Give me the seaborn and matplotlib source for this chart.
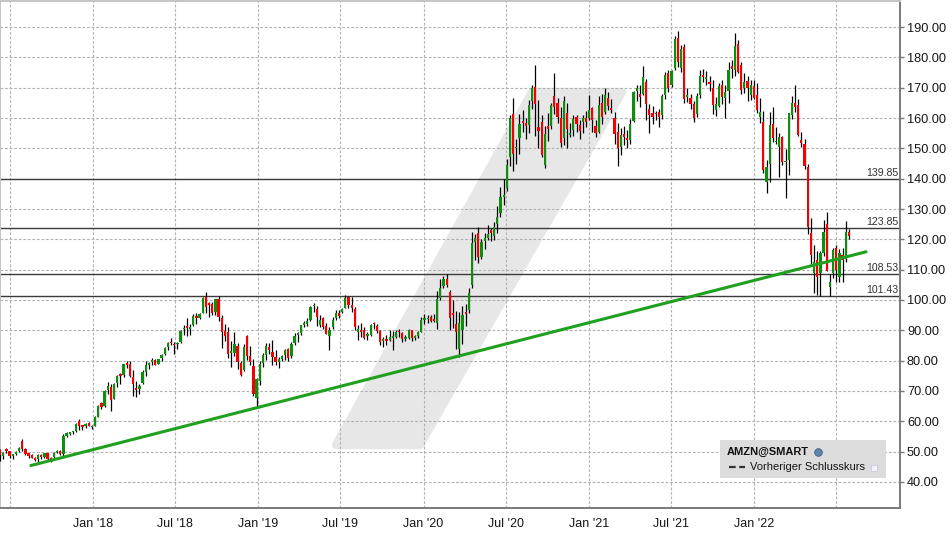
"""AMZN weekly candles with support/resistance levels and trend line."""

import numpy as np
import pandas as pd
import matplotlib
matplotlib.use("Agg")
import matplotlib.pyplot as plt
import matplotlib.dates as mdates
from matplotlib.patches import Polygon, Rectangle
import seaborn as sns

# ---- data (weekly bars, Friday dates) ----
first_week = "2017-06-09"

opens = [
    # 2017
    50.5, 48.5, 50.9, 50.1, 48.6, 49.1, 50.2, 53.4, 51.0, 49.4, 48.9, 48.0, 47.4, 48.8, 48.1,
    49.5, 47.7, 48.3, 49.8, 50.2, 49.3, 55.2, 55.8, 56.3, 56.8, 60.0, 58.6, 58.6, 59.4, 58.1,
    # 2018
    58.6, 61.5, 65.9, 64.9, 70.3, 71.2, 67.5, 72.6, 75.4, 75.4, 79.3, 78.8, 74.6, 71.0, 70.8,
    72.5, 76.2, 78.6, 79.4, 80.3, 79.0, 80.8, 82.3, 84.5, 86.3, 85.3, 85.4, 86.0, 90.4, 91.3,
    90.5, 91.8, 94.4, 94.2, 95.8, 101.0, 98.9, 98.7, 96.0, 100.3, 94.0, 89.8, 89.5, 82.5, 82.6,
    84.8, 79.1, 76.9, 88.0, 81.6, 78.2, 67.8,
    # 2019
    73.2, 79.1, 81.7, 84.4, 83.0, 81.2, 79.5, 80.6, 81.8, 84.0, 81.6, 85.8, 88.4, 89.2, 91.9,
    92.1, 93.5, 98.0, 97.0, 91.8, 94.0, 91.3, 88.0, 91.0, 94.0, 95.8, 96.1, 97.5, 101.0, 98.5,
    97.0, 89.5, 90.0, 90.0, 88.0, 88.5, 92.4, 91.5, 89.7, 86.5, 87.2, 86.7, 87.6, 87.8, 89.6,
    89.0, 87.2, 87.5, 90.0, 87.6, 88.1, 89.6,
    # 2020
    93.5, 93.6, 94.3, 93.6, 92.5, 100.5, 104.5, 107.0, 102.5, 95.6, 92.0, 84.0, 90.0, 96.0, 96.6,
    105.0, 119.0, 122.0, 114.3, 119.5, 120.4, 123.0, 121.0, 125.1, 128.8, 134.0, 137.0, 147.0,
    161.3, 150.0, 153.3, 159.0, 158.5, 157.8, 165.5, 170.1, 157.0, 158.8, 144.5, 157.4, 157.5,
    167.2, 165.0, 160.0, 153.3, 161.5, 154.5, 156.0, 160.4, 157.7, 158.8, 160.0,
    # 2021
    159.9, 163.2, 157.4, 155.5, 165.0, 162.0, 166.5, 163.3, 160.0, 155.5, 150.5, 154.6, 153.5,
    152.7, 159.0, 168.8, 168.0, 168.0, 172.0, 163.0, 161.6, 161.5, 162.0, 161.0, 167.5, 175.0,
    171.0, 176.5, 186.5, 176.4, 183.5, 167.0, 166.5, 164.5, 161.3, 167.5, 174.3, 173.0, 172.0,
    170.0, 162.5, 164.0, 171.0, 166.5, 169.0, 177.0, 176.0, 184.3, 177.5, 169.8, 172.3, 167.5,
    170.6,
    # 2022
    167.6, 160.4, 158.8, 139.0, 145.0, 158.2, 152.0, 150.5, 153.8, 145.4, 146.1, 161.0, 164.8,
    164.3, 152.7, 151.4, 144.0, 122.0, 108.8, 113.2, 108.8, 115.4, 125.1, 104.4, 108.8, 117.0,
    107.7, 114.8, 113.4, 122.5,
]

highs = [
    # 2017
    50.8, 49.9, 51.2, 50.3, 49.3, 50.2, 51.6, 54.2, 51.2, 49.7, 49.2, 48.3, 49.2, 49.2, 49.6,
    49.7, 48.2, 50.0, 50.6, 50.5, 55.9, 56.5, 56.6, 56.9, 59.4, 60.9, 58.9, 59.4, 59.6, 58.8,
    # 2018
    61.8, 65.3, 66.4, 70.2, 72.9, 72.3, 72.6, 75.1, 76.0, 79.0, 80.0, 79.8, 76.8, 73.3, 72.4,
    77.0, 80.0, 79.6, 80.8, 80.6, 80.7, 82.3, 84.6, 86.3, 87.6, 86.0, 86.0, 90.0, 91.8, 94.0,
    92.1, 95.3, 95.8, 95.8, 100.9, 102.5, 99.4, 99.5, 100.4, 101.2, 95.0, 92.0, 91.0, 86.5, 89.6,
    85.7, 79.8, 85.4, 88.4, 84.9, 80.6, 74.4,
    # 2019
    79.8, 82.6, 85.8, 85.9, 86.7, 83.4, 81.3, 82.0, 83.8, 84.1, 86.0, 89.1, 89.5, 91.9, 93.0,
    94.0, 98.1, 98.9, 98.0, 95.0, 94.4, 92.3, 91.0, 94.3, 96.7, 96.8, 97.5, 101.8, 101.3, 101.0,
    97.6, 91.8, 92.5, 91.2, 89.5, 92.1, 92.6, 92.0, 90.0, 87.8, 88.5, 90.0, 89.7, 90.0, 90.5,
    89.5, 88.3, 90.5, 90.2, 88.3, 89.7, 94.3,
    # 2020
    95.3, 95.0, 95.0, 95.3, 102.8, 106.8, 108.0, 108.6, 103.4, 99.9, 96.5, 96.0, 98.0, 98.8,
    104.0, 122.5, 121.8, 124.0, 120.0, 122.0, 124.8, 123.9, 125.6, 131.0, 137.4, 140.0, 146.5,
    160.9, 166.7, 153.2, 161.4, 162.5, 160.0, 166.1, 171.0, 177.6, 165.8, 161.0, 157.5, 161.8,
    165.0, 174.8, 166.5, 163.5, 167.2, 165.0, 158.5, 161.0, 161.0, 159.5, 161.0, 162.2,
    # 2021
    167.5, 163.5, 159.5, 167.4, 168.0, 170.0, 168.5, 166.2, 162.0, 158.5, 156.6, 157.5, 156.0,
    159.6, 169.0, 171.0, 171.0, 177.3, 173.0, 164.6, 164.0, 162.4, 163.0, 168.0, 175.3, 175.8,
    176.0, 187.0, 188.6, 184.0, 184.3, 169.8, 167.9, 165.5, 168.2, 175.8, 176.3, 175.5, 173.9,
    172.7, 167.0, 171.7, 172.4, 170.8, 178.5, 179.1, 188.1, 185.7, 178.5, 175.0, 174.0, 172.5,
    172.7,
    # 2022
    171.4, 166.6, 162.3, 146.0, 162.0, 163.8, 157.1, 155.0, 154.0, 149.7, 161.8, 167.2, 170.8,
    166.2, 155.5, 153.0, 144.9, 127.0, 118.0, 116.0, 116.0, 126.4, 129.1, 108.5, 117.0, 118.0,
    116.8, 117.0, 126.0, 123.5,
]

lows = [
    # 2017
    47.0, 47.4, 49.6, 47.8, 47.6, 48.9, 50.0, 50.2, 49.0, 47.8, 47.8, 46.9, 46.4, 47.7, 47.9,
    47.3, 46.6, 48.0, 49.5, 48.8, 48.6, 54.9, 55.4, 55.9, 56.6, 57.2, 57.0, 57.7, 58.3, 57.6,
    # 2018
    58.4, 61.4, 64.0, 64.7, 68.9, 63.3, 67.3, 71.3, 72.4, 74.5, 77.6, 74.6, 68.2, 68.1, 69.0,
    72.2, 74.8, 77.2, 78.6, 78.4, 78.8, 79.8, 82.0, 83.6, 85.0, 82.3, 83.7, 85.9, 88.5, 88.2,
    88.5, 91.5, 92.1, 93.6, 95.6, 95.7, 94.5, 95.0, 95.2, 93.0, 84.2, 86.4, 80.9, 78.0, 81.5,
    77.2, 74.9, 76.5, 80.3, 78.7, 68.3, 65.2,
    # 2019
    71.9, 78.0, 80.3, 82.1, 78.5, 78.5, 77.7, 80.0, 80.1, 79.9, 81.0, 85.2, 86.0, 88.6, 91.0,
    91.5, 93.1, 95.9, 91.5, 91.0, 90.5, 88.7, 83.6, 90.5, 93.3, 94.0, 95.6, 97.3, 97.5, 96.2,
    90.2, 86.7, 87.8, 87.0, 86.7, 88.0, 90.5, 89.0, 85.0, 84.6, 85.3, 86.5, 83.5, 87.4, 87.8,
    86.2, 86.5, 87.2, 86.5, 86.9, 87.4, 89.5,
    # 2020
    92.2, 92.5, 92.6, 92.8, 90.5, 100.0, 104.0, 104.2, 90.0, 90.8, 83.7, 81.3, 85.6, 91.5, 95.8,
    104.0, 113.3, 112.3, 113.6, 116.8, 119.8, 119.5, 119.7, 122.2, 127.5, 131.3, 136.0, 144.2,
    142.4, 145.0, 148.0, 155.3, 153.1, 155.2, 163.0, 154.2, 150.0, 147.0, 143.6, 152.3, 156.3,
    161.2, 158.5, 150.4, 151.0, 150.2, 153.8, 154.0, 155.5, 153.0, 155.2, 157.0,
    # 2021
    159.5, 155.3, 153.9, 155.1, 158.0, 161.2, 162.8, 161.5, 151.5, 144.1, 147.7, 151.0, 150.0,
    151.3, 158.8, 165.7, 163.7, 167.5, 159.3, 155.1, 158.2, 159.5, 157.2, 159.7, 166.3, 168.7,
    170.3, 176.0, 176.8, 175.3, 164.9, 165.4, 163.0, 158.8, 160.5, 166.5, 172.0, 170.8, 168.8,
    161.3, 160.6, 163.5, 164.5, 160.1, 165.0, 173.3, 174.0, 174.7, 168.0, 168.3, 165.6, 166.0,
    166.4,
    # 2022
    161.6, 158.4, 142.0, 135.4, 139.0, 152.0, 151.6, 140.5, 144.5, 133.6, 141.3, 159.6, 162.0,
    154.0, 150.4, 143.1, 121.6, 112.0, 102.2, 101.6, 101.3, 114.5, 109.4, 101.4, 107.3, 105.9,
    106.0, 105.8, 112.6, 120.0,
]

closes = [
    # 2017
    49.0, 49.4, 50.1, 48.4, 49.0, 50.0, 51.3, 51.0, 49.3, 48.5, 47.9, 47.3, 48.9, 48.1, 49.4,
    47.7, 47.4, 49.6, 50.1, 49.2, 55.0, 56.0, 56.3, 56.6, 59.2, 58.4, 58.2, 58.9, 58.6, 58.5,
    # 2018
    61.5, 65.2, 64.7, 70.1, 71.5, 67.0, 72.4, 75.0, 75.0, 78.9, 78.6, 74.8, 72.4, 70.2, 71.5,
    76.3, 78.6, 79.0, 80.1, 78.7, 80.5, 82.0, 84.1, 85.8, 85.8, 85.0, 85.5, 89.8, 90.7, 90.9,
    91.2, 94.8, 94.1, 95.3, 100.6, 97.6, 98.3, 95.8, 100.2, 94.5, 89.4, 88.2, 82.1, 83.3, 85.6,
    79.7, 75.1, 84.5, 81.5, 79.6, 68.9, 73.9,
    # 2019
    78.8, 82.0, 84.8, 83.6, 81.3, 79.4, 80.4, 81.4, 83.6, 81.0, 85.6, 88.2, 89.0, 91.8, 92.2,
    93.1, 97.6, 98.1, 94.5, 93.5, 91.2, 88.8, 90.2, 93.5, 95.6, 94.7, 97.1, 100.6, 98.2, 97.2,
    91.2, 90.4, 89.6, 87.5, 88.8, 91.7, 92.0, 89.7, 86.3, 87.0, 86.6, 87.9, 88.1, 89.6, 89.3,
    87.0, 87.3, 90.0, 87.6, 88.0, 89.4, 93.5,
    # 2020
    93.7, 94.2, 93.2, 93.1, 100.4, 104.0, 106.8, 104.8, 94.2, 95.1, 89.3, 92.3, 95.0, 95.3,
    102.2, 118.8, 120.5, 114.3, 119.0, 120.4, 121.8, 122.1, 124.2, 127.3, 133.8, 134.6, 144.5,
    160.0, 148.1, 150.4, 158.2, 158.4, 157.5, 164.2, 170.0, 164.7, 155.8, 147.7, 154.8, 156.3,
    164.3, 163.6, 160.2, 151.8, 165.6, 156.4, 155.0, 159.8, 158.1, 155.8, 160.1, 158.6,
    # 2021
    162.8, 159.3, 155.2, 164.3, 160.3, 167.6, 163.9, 162.5, 154.6, 150.0, 154.5, 153.7, 152.6,
    158.0, 168.6, 170.0, 167.0, 173.4, 164.6, 161.1, 160.2, 161.2, 160.3, 167.3, 174.3, 170.0,
    175.5, 186.0, 178.6, 182.8, 166.4, 167.2, 164.6, 160.0, 167.4, 173.9, 173.4, 173.1, 171.3,
    164.2, 164.5, 170.5, 166.8, 168.6, 175.9, 176.3, 183.8, 175.2, 169.2, 172.0, 170.0, 170.9,
    166.7,
    # 2022
    162.6, 162.1, 142.9, 144.0, 157.7, 153.3, 152.5, 153.8, 145.6, 145.6, 161.5, 164.8, 163.7,
    154.4, 151.9, 144.2, 124.2, 114.8, 112.6, 107.7, 115.4, 122.5, 109.7, 106.0, 116.5, 110.0,
    115.6, 113.2, 122.5, 121.2,
]

levels = [139.85, 123.85, 108.53, 101.43]

trend_dates = ["2017-08-16", "2022-09-05"]
trend_prices = [45.4, 115.9]

tick_dates = ["2017-07-01", "2018-01-01", "2018-07-01", "2019-01-01", "2019-07-01",
              "2020-01-01", "2020-07-01", "2021-01-01", "2021-07-01", "2022-01-01",
              "2022-07-01"]
tick_labels = ["", "Jan '18", "Jul '18", "Jan '19", "Jul '19", "Jan '20", "Jul '20",
               "Jan '21", "Jul '21", "Jan '22", ""]
y_ticks = list(range(40, 200, 10))

legend_symbol = "AMZN@SMART"
legend_line = "Vorheriger Schlusskurs"

GREEN = "#0c8f0c"
RED = "#f40000"
TREND = "#1fa01f"
LEVEL = "#3a3a3a"

# ---- style ----
sns.set_style("white")
plt.rcParams["font.family"] = ["Liberation Sans", "DejaVu Sans"]

W, H = 953, 536
AX_L, AX_R, AX_T, AX_B = 0, 900, 1, 508   # plot area in pixels

fig = plt.figure(figsize=(W / 100, H / 100), dpi=100)
ax = fig.add_axes([AX_L / W, 1 - AX_B / H, (AX_R - AX_L) / W, (AX_B - AX_T) / H])


def px(x, y):
    """pixel position in the image -> axes fraction"""
    return (x - AX_L) / (AX_R - AX_L), (AX_B - y) / (AX_B - AX_T)


# background watermark
wm = [px(336, 445), px(420, 445), px(622, 92), px(532, 92)]
ax.add_patch(Polygon(wm, closed=True, transform=ax.transAxes, facecolor="#e7e7e7",
                     edgecolor="#e7e7e7", lw=6, joinstyle="round", zorder=0.2))

df = pd.DataFrame({
    "date": pd.date_range(first_week, periods=len(closes), freq="W-FRI"),
    "open": opens, "high": highs, "low": lows, "close": closes,
})
x = mdates.date2num(df["date"])
up = df["close"] >= df["open"]
body_lo = np.minimum(df["open"], df["close"])
body_h = np.maximum((df["close"] - df["open"]).abs(), 0.5)

ax.vlines(x, df["low"], df["high"], color="black", lw=0.9, zorder=3)
ax.bar(x, body_h, bottom=body_lo, width=5, color=np.where(up, GREEN, RED), lw=0, zorder=4)

# horizontal levels
for lv in levels:
    ax.axhline(lv, color=LEVEL, lw=1.0, zorder=2)
    ax.annotate(f"{lv:.2f}", xy=(898 / 900, lv), xycoords=("axes fraction", "data"),
                xytext=(0, 2), textcoords="offset points", ha="right", va="baseline",
                fontsize=7.6, color="#333333", zorder=6)

# trend line
trend = pd.DataFrame({"date": pd.to_datetime(trend_dates), "price": trend_prices})
sns.lineplot(data=trend, x="date", y="price", color=TREND, lw=2.2, ax=ax, zorder=5)

# axes
x0 = mdates.date2num(pd.Timestamp("2018-01-01"))
ax.set_xlim(x0 - 206.2, x0 + 1783)
ax.set_ylim(31.4, 198.6)
ax.set_xticks(mdates.date2num(pd.to_datetime(tick_dates)))
ax.set_xticklabels(tick_labels)
ax.set_yticks(y_ticks)
ax.set_yticklabels([f"{v:.2f}" for v in y_ticks])
ax.yaxis.tick_right()
ax.set_xlabel("")
ax.set_ylabel("")

ax.grid(True, color="#b2b2b2", lw=0.8, ls=(0, (2.5, 1.6)))
ax.set_axisbelow(True)
ax.tick_params(axis="y", length=3, width=1, color="#7a7a7a", pad=2, labelsize=9.2,
               labelcolor="#151515")
ax.tick_params(axis="x", length=3, width=1, color="#7a7a7a", pad=4, labelsize=9,
               labelcolor="#151515")
for side in ("left", "top"):
    ax.spines[side].set_color("#c4c4c4")
    ax.spines[side].set_linewidth(1.4)
for side in ("right", "bottom"):
    ax.spines[side].set_color("#7a7a7a")
    ax.spines[side].set_linewidth(1.4)

# legend box
lx0, ly1 = px(720, 478)
lx1, ly0 = px(886, 440)
ax.add_patch(Rectangle((lx0, ly1), lx1 - lx0, ly0 - ly1, transform=ax.transAxes,
                       facecolor="#dcdcdc", edgecolor="none", zorder=7))
ax.text(*px(727, 452), legend_symbol, transform=ax.transAxes, ha="left", va="center",
        fontsize=7.9, fontweight="bold", color="#111111", zorder=8)
ax.plot(*px(818, 452), transform=ax.transAxes, marker="o", ms=5.5, color="#5f84ad",
        mec="#3f5f85", mew=0.6, zorder=8)
(a, b), (c, d) = px(729, 467), px(745, 467)
ax.plot([a, c], [b, d], transform=ax.transAxes, color="#333333", lw=1.6,
        ls=(0, (3, 1.6)), zorder=8)
ax.text(*px(750, 467), legend_line, transform=ax.transAxes, ha="left", va="center",
        fontsize=8.0, color="#151515", zorder=8)
sx, sy = px(871, 471)
sw, sh = px(877, 465)
ax.add_patch(Rectangle((sx, sy), sw - sx, sh - sy, transform=ax.transAxes,
                       facecolor="#f2f2fa", edgecolor="#c8c8d8", lw=0.5, zorder=8))

fig.savefig("out.png", dpi=100)
plt.close(fig)
